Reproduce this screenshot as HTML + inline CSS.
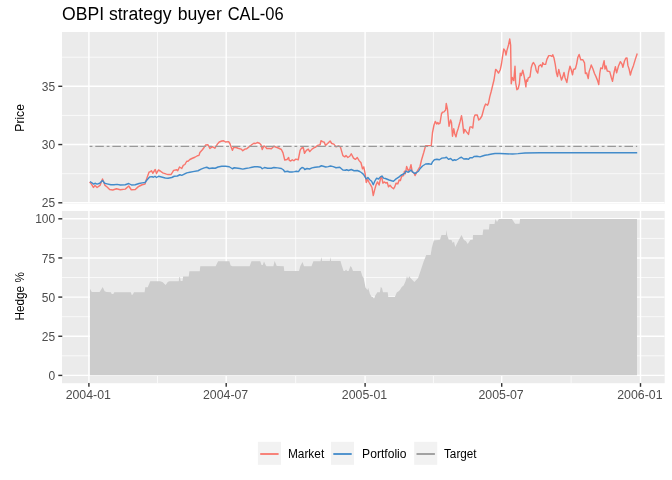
<!DOCTYPE html>
<html><head><meta charset="utf-8"><title>OBPI strategy buyer CAL-06</title>
<style>html,body{margin:0;padding:0;background:#fff}svg{display:block}text{font-family:"Liberation Sans",Arial,Helvetica,sans-serif}</style></head>
<body>
<svg width="672" height="480" viewBox="0 0 672 480">
<rect width="672" height="480" fill="#fff"/>
<defs><clipPath id="c1"><rect x="62" y="32" width="602.7" height="171.55"/></clipPath><clipPath id="c2"><rect x="62" y="210.95" width="602.7" height="172.25"/></clipPath></defs>
<rect x="62" y="32" width="602.7" height="171.55" fill="#ebebeb"/>
<g clip-path="url(#c1)">
<g stroke="#fff" stroke-width="0.71" fill="none"><path d="M62 57.2 H664.7"/><path d="M62 115.4 H664.7"/><path d="M62 173.7 H664.7"/><path d="M157.55 32 V203.55"/><path d="M295.65 32 V203.55"/><path d="M433.4 32 V203.55"/><path d="M571.1 32 V203.55"/></g>
<g stroke="#fff" stroke-width="1.42" fill="none"><path d="M62 86.3 H664.7"/><path d="M62 144.55 H664.7"/><path d="M62 202.8 H664.7"/><path d="M88.9 32 V203.55"/><path d="M226.2 32 V203.55"/><path d="M365.1 32 V203.55"/><path d="M501.7 32 V203.55"/><path d="M640.5 32 V203.55"/></g>
<path d="M89.62 182 L91.5 184.12 L93.38 187.5 L95 185.38 L97.12 187.5 L100 185.38 L102.5 178.88 L105 185.38 L107.12 187 L109.62 189.5 L112.75 190 L116.5 188.75 L120.25 189.75 L125.25 189.12 L128.75 186 L131.25 189.75 L135.25 189.5 L138.38 186.62 L139.62 186 L142.12 184.75 L145 184.12 L146.5 179.12 L149 172.25 L150.25 171.62 L151.5 170.75 L152.75 173.25 L155.25 169.5 L156.5 173.5 L158.38 170 L160.25 171 L162.75 172.88 L166.5 174.12 L168 174.5 L171.12 174.5 L173.62 170.38 L176.75 169.75 L177.75 170.75 L179.5 167 L181.75 168.5 L183.25 165.38 L184.88 164.5 L186.75 161.25 L188 161.25 L189.88 159.5 L192.38 158.25 L194.88 157.25 L197.38 155.75 L199 155.38 L199.88 152.5 L202.38 149.75 L204.25 147.25 L205.5 145 L208 144.75 L209.88 148.5 L212.38 146.62 L214.88 148.25 L217.38 144.12 L219.25 142 L221.75 141 L223.62 140.75 L225.5 142 L228.62 141.62 L229.88 143.5 L232.38 150.38 L233.62 147.5 L235.5 147.25 L238 148.25 L241.12 149.12 L242.75 150.75 L244.88 149.12 L246.75 148.75 L249.25 146.62 L252 144.5 L253.88 143.25 L255.75 143.5 L257.25 142.5 L259.5 143.25 L261 144.75 L262.25 149.5 L263.88 146 L265.12 146.62 L266.75 148.5 L269.5 148.5 L271.38 148.75 L273.88 146.25 L276.38 147.25 L278.88 148.25 L281.38 149.5 L283 152.88 L284.75 160 L287 159.5 L288.62 157.5 L289.25 160.38 L290.75 161 L292.25 159.75 L293.88 160.75 L295.75 159.12 L298.25 159.75 L300.12 150.38 L301.38 148.25 L303.25 147.5 L304.5 153.25 L306.38 150.38 L308.25 149.12 L309.75 151.62 L312 149.12 L313.88 147.88 L315.75 147 L317.62 145.38 L320.12 144.75 L321 140.75 L322.62 141.62 L324.25 142.25 L325.5 145.38 L327.62 143.5 L330.12 141 L331.75 143.5 L333.88 144.12 L336 146.88 L338.5 146 L340.38 146.88 L342.88 155.62 L344.75 156.88 L346 155.62 L347.88 157.5 L349.75 156.25 L351.25 153.75 L353.5 158.12 L355.38 159.38 L357.25 157.5 L359.12 160.62 L361 162.75 L362.5 168.75 L363.75 166.88 L365 173.12 L366.25 182.5 L367.5 179.38 L369.12 182.5 L371 185.62 L372 187.5 L373.25 195.62 L374.75 189.38 L376 185 L377.5 181.88 L379.12 185 L380.75 177.5 L381.62 176.5 L382.88 183.12 L384.5 181.88 L385.75 183.12 L387.25 182.5 L388.5 186.88 L390 185.25 L391.62 187.25 L393.5 188.75 L394.75 186.88 L396 183.12 L397.88 183.75 L399.12 180 L400.38 180.62 L401.62 176.25 L403.5 175.62 L404.5 171.25 L405.38 173.75 L406.62 166.5 L408.25 170.62 L409.75 169.38 L411 164.75 L412.25 171.88 L414.12 173.12 L415 175.62 L416.62 172.25 L418.5 169 L420 166.5 L421.5 160 L423.75 152.5 L425.62 145.62 L428.12 145.62 L431.25 145.62 L432.5 132.5 L434 125 L435.25 121.5 L436.88 124 L437.75 122.5 L438.75 124 L440 123.12 L441.5 113.75 L442.5 112.25 L444 111.88 L445.62 110 L446.25 103.5 L447.5 109.38 L448.12 116.25 L449 126.25 L450.62 120 L451.5 122.5 L452.5 136.25 L453.75 128.75 L454.75 133.75 L456 136.88 L456.88 132.5 L458.12 128.75 L460 121.88 L461.5 115.62 L462.5 121.88 L463.75 133.12 L464.75 129.38 L466.5 131.88 L468.5 134.38 L470 126.88 L471.5 126.88 L472.75 128.12 L474 117.5 L475 115 L477.25 115 L478.75 120 L480 119 L481.88 116 L483.5 110 L484.38 106.88 L485.62 104 L487.5 105.25 L488.5 103.12 L489.75 96.88 L491.25 91.25 L492.75 85 L494 80 L495.62 69.38 L496.88 70.62 L498.5 73.12 L500.25 69.75 L501.5 63.75 L502.5 56.88 L503.75 49 L505 50.62 L506 55 L506.88 50.62 L508.5 45 L509.75 39 L510.62 45 L511.25 83.75 L512.25 77.5 L513.75 80.62 L515 66.25 L515.62 82.5 L516.88 89.75 L518.12 88.75 L519.38 83.75 L520.25 73.12 L521.25 75.62 L522.75 70.25 L524 75.62 L525.25 82.5 L525.88 86.88 L526.5 80 L527.5 81.25 L528.12 78.12 L530 76.88 L531.25 67.5 L532.5 63.75 L533.5 62.5 L535.25 65.62 L536.25 70.62 L537.75 73.12 L538.75 66.25 L540.62 64.75 L541.88 66.88 L542.75 62.75 L544 64.38 L545.62 64.38 L546.88 59.38 L548.75 55.62 L550.62 55.62 L551.88 56.5 L552.75 54.75 L554 58.12 L555.25 64.38 L556.5 73.12 L557.5 76.5 L558.75 69.38 L560 74.38 L561.5 80 L562.75 76.88 L564 72.5 L565 77.5 L566.88 82.5 L568.5 72.5 L570 66.25 L571.25 69.75 L572.5 74.75 L573.5 69.5 L575.38 68.75 L576.62 64.12 L577.88 57.25 L579.12 54.5 L580.75 59.75 L582.88 59.75 L584.5 62.88 L585.38 73.5 L586.62 72.88 L588.25 78.5 L589.12 71.62 L590.38 67.88 L591.25 65 L592.88 68.75 L594.5 73.5 L596 76.62 L597.5 80.38 L598.75 84.5 L599.75 73.5 L600.75 67.88 L602.25 68.75 L603.25 64.12 L604.12 60.75 L605 69.12 L606 66 L607.25 71 L609.75 71.62 L611.25 77.25 L612.5 81.25 L614.12 72.25 L615.38 66.62 L616.62 72.88 L618.5 66 L620.38 61.62 L622 64.12 L622.88 67.25 L624.5 61 L625.75 58.25 L627 57.88 L627.88 65.38 L629.12 69.12 L630.38 75 L631.62 70.38 L633.5 65.38 L635.38 59.12 L637.25 53.5" fill="none" stroke="#f8766d" stroke-width="1.42" stroke-linejoin="round"/>
<path d="M90 181.62 L91.5 182.5 L93.75 184.12 L95 183.25 L97.12 184.12 L99.62 183.25 L102.5 180.38 L104.62 183.25 L107.12 183.88 L110.88 184.75 L114 184.75 L117.12 184.38 L120.25 185 L125.25 184.75 L128.75 183.5 L131.5 185 L135.25 184.75 L139 183.5 L142.12 182.88 L145 182.5 L147.12 179.75 L149.62 177 L152.12 176.62 L153.38 177.25 L155 176.25 L156.5 177.5 L158.62 176.25 L161.5 177 L165.25 178 L168 178.25 L171.75 177.5 L174.25 176.25 L177.38 176 L179.88 174.75 L181.75 175.38 L184.25 174.12 L186.75 172.88 L189.88 172.25 L193 171.62 L198 170.75 L201.12 169.12 L204.25 167.88 L206.75 167.25 L209.25 168.5 L212.38 168 L215.25 168.25 L218 167 L221.75 166.25 L225.5 166.25 L229.25 166.75 L232.38 168.75 L234.25 167.75 L236.12 168 L239.88 168.5 L242.75 169.12 L245.5 168.5 L249.25 167.88 L252 167.25 L254.5 166.75 L257.62 166.75 L260.75 167.25 L262.25 168.75 L264.5 167.5 L267.62 168.25 L271.38 168.25 L273.88 167.5 L277.62 167.88 L281.38 168.5 L283.25 169.75 L284.75 171.75 L287.62 171.25 L289.5 172 L292 172 L294.5 171.62 L296.38 171.25 L298.5 171.62 L300.12 169.12 L302 167.5 L303.5 167.88 L304.75 169.5 L307 168.5 L309.5 169 L312 167.88 L315.12 167.25 L319.5 166.75 L321.38 165.75 L323.25 166.25 L325.75 167 L328.25 166.62 L330.5 166 L333.25 166.62 L336 167.75 L339.75 167.25 L342.88 170 L345.38 170.25 L346.62 169.75 L348.5 170.5 L351.25 169.5 L354.12 170.75 L357.25 170.5 L359.75 171.5 L361.62 172.75 L363.5 174.38 L365 176.88 L366.25 179 L367.88 177.5 L369.75 179.75 L371.62 181.25 L373.25 184.75 L374.75 181.25 L376.62 178.12 L378.5 179 L380.38 176.88 L382 176 L383.5 178.12 L385.38 178.5 L387.25 179.25 L389.12 180 L391.62 180.75 L393.5 181.25 L395.38 179.38 L397.25 178.12 L399.12 176.88 L401 175.25 L403.5 174 L404.75 173.12 L406 171 L407.88 172.25 L409.75 171.25 L411 170 L412.5 171.88 L414.75 173.5 L416.62 172.5 L418.5 171.25 L420 168.75 L422.5 166 L425.62 164 L428.75 163.75 L431.25 164.38 L432.5 161.88 L434.38 159.75 L436.88 159.25 L439.38 159.75 L441.88 158.12 L445 157.75 L446.5 157.25 L448.5 159.38 L450.62 158.5 L452.75 160.62 L454.38 159.75 L456 160.25 L458.12 159 L460 157.75 L461.5 157.25 L463.75 159 L466.25 158.75 L468.5 159.25 L470 157.75 L472.5 157.75 L474 156.5 L476.88 156.25 L480 156.88 L482.5 156 L485 155.25 L488.12 154.75 L491.88 154 L495 153.5 L500 153.5 L512.5 154.05 L518 153.65 L525 152.98 L540 152.83 L637.2 152.83" fill="none" stroke="#428bca" stroke-width="1.42" stroke-linejoin="round"/>
<path d="M89.6 146.4 H637.2" fill="none" stroke="#999999" stroke-width="1.42" stroke-dasharray="2.845 2.845 8.535 2.845"/>
</g>
<rect x="62" y="210.95" width="602.7" height="172.25" fill="#ebebeb"/>
<g clip-path="url(#c2)">
<g stroke="#fff" stroke-width="0.71" fill="none"><path d="M62 238.4 H664.7"/><path d="M62 277.5 H664.7"/><path d="M62 316.7 H664.7"/><path d="M62 355.8 H664.7"/><path d="M157.55 210.95 V383.2"/><path d="M295.65 210.95 V383.2"/><path d="M433.4 210.95 V383.2"/><path d="M571.1 210.95 V383.2"/></g>
<g stroke="#fff" stroke-width="1.42" fill="none"><path d="M62 218.8 H664.7"/><path d="M62 257.95 H664.7"/><path d="M62 297.1 H664.7"/><path d="M62 336.25 H664.7"/><path d="M62 375.4 H664.7"/><path d="M88.9 210.95 V383.2"/><path d="M226.2 210.95 V383.2"/><path d="M365.1 210.95 V383.2"/><path d="M501.7 210.95 V383.2"/><path d="M640.5 210.95 V383.2"/></g>
<path d="M90 375.3 L90 288.75 L91.75 291.88 L99.62 291.88 L100.88 290 L102.75 286.88 L104.62 291.25 L106.5 291.88 L110.88 292.25 L111.75 294 L113.38 294 L114.25 292.25 L130.88 292.25 L131.75 295 L132.75 294.38 L134 292.25 L144.62 292.25 L145.25 287.25 L147.75 287.25 L150.25 281.25 L159 281.25 L160 281.25 L162.5 281.88 L165.62 285 L167.75 281.88 L169.38 281.25 L178.75 281.25 L179.38 276.88 L180 276.88 L180.62 281 L182.5 281 L183.12 276.5 L188.75 276.5 L189.38 271.25 L199.75 271.25 L200.25 266.25 L215.62 266.25 L218.12 261.25 L229.38 261.25 L230.62 265.62 L232.5 266.25 L242.5 266.25 L244 266.25 L249.62 266.25 L251.5 261.25 L260.25 261.25 L261.5 265 L262.75 265 L264 261.5 L265.88 265.62 L266.5 266.25 L273.38 266.25 L274.62 261 L276.75 266 L283.75 266.25 L284.25 271 L299 271 L300.25 266.25 L302.5 261.88 L304 266.25 L311.5 266.25 L313.38 261.25 L320.5 261.25 L321.5 256.88 L322.12 261 L326.5 261 L328 261 L329.88 261 L330.5 256.88 L331.12 261 L340.5 261 L341.75 265.62 L343.62 271 L344.88 271 L346.12 269.38 L347 271 L348.62 271 L350.5 266 L351.75 267.5 L353 271 L360.75 271 L362.38 276.25 L363.62 277.75 L365.5 287.5 L367.38 290 L368.25 288.12 L369.88 293.75 L371.75 296.88 L373 296.88 L374 298.75 L375.25 295.62 L377.38 292.25 L379.88 292.25 L380.75 286.88 L382 288.12 L383 292.25 L387.75 292.25 L388.25 296.88 L394.88 296.88 L396.75 292.5 L398.62 291.25 L399.88 290 L401.75 286.88 L403.62 285.62 L405.5 281.25 L407 276.25 L408 278.75 L409.25 276.25 L410.5 278.12 L414.38 281.88 L418.12 278.12 L421.25 268.75 L423.75 261.25 L426.25 255 L430.62 255 L431.88 247.5 L433.75 240.62 L440 239.75 L441.5 235 L445.88 235.12 L446.5 230.12 L447.12 235.12 L448.75 239.75 L451.5 240.12 L452.75 243 L454 241.38 L455.25 247 L458.38 240.75 L461.5 235.12 L464 240.12 L465.88 241 L467.75 243.88 L470.25 240.12 L472.75 239.75 L473 235 L482.62 235 L483.25 229.38 L488.88 229.38 L489.5 224 L494.5 224 L495.5 219 L497 221.88 L498.88 219 L512 219 L515.12 223.75 L519.5 223.75 L520.12 219 L637 219 L637 375.3 Z" fill="#cccccc"/>
</g>
<g stroke="#333" stroke-width="1.42" fill="none"><path d="M58.3 86.3 H62.3"/><path d="M58.3 144.55 H62.3"/><path d="M58.3 202.8 H62.3"/><path d="M58.3 218.8 H62.3"/><path d="M58.3 257.95 H62.3"/><path d="M58.3 297.1 H62.3"/><path d="M58.3 336.25 H62.3"/><path d="M58.3 375.4 H62.3"/><path d="M88.9 383.1 V386.8"/><path d="M226.2 383.1 V386.8"/><path d="M365.1 383.1 V386.8"/><path d="M501.7 383.1 V386.8"/><path d="M640.5 383.1 V386.8"/></g>
<g font-size="12.5" fill="#4d4d4d" text-anchor="end"><text x="55.2" y="90.9" textLength="13.34" lengthAdjust="spacingAndGlyphs">35</text><text x="55.2" y="148.9" textLength="13.34" lengthAdjust="spacingAndGlyphs">30</text><text x="55.2" y="206.9" textLength="13.34" lengthAdjust="spacingAndGlyphs">25</text><text x="55.2" y="222.9" textLength="20.01" lengthAdjust="spacingAndGlyphs">100</text><text x="55.2" y="262.9" textLength="13.34" lengthAdjust="spacingAndGlyphs">75</text><text x="55.2" y="301.9" textLength="13.34" lengthAdjust="spacingAndGlyphs">50</text><text x="55.2" y="340.9" textLength="13.34" lengthAdjust="spacingAndGlyphs">25</text><text x="55.2" y="379.9" textLength="6.67" lengthAdjust="spacingAndGlyphs">0</text></g>
<g font-size="12.5" fill="#4d4d4d" text-anchor="middle"><text x="88.3" y="398.9" textLength="45.3" lengthAdjust="spacingAndGlyphs">2004-01</text><text x="225.6" y="398.9" textLength="45.3" lengthAdjust="spacingAndGlyphs">2004-07</text><text x="364.5" y="398.9" textLength="45.3" lengthAdjust="spacingAndGlyphs">2005-01</text><text x="501.1" y="398.9" textLength="45.3" lengthAdjust="spacingAndGlyphs">2005-07</text><text x="639.9" y="398.9" textLength="45.3" lengthAdjust="spacingAndGlyphs">2006-01</text></g>
<text font-size="12.5" fill="#000" text-anchor="middle" textLength="27.5" lengthAdjust="spacingAndGlyphs" transform="translate(24 117.9) rotate(-90)">Price</text>
<text font-size="12.5" fill="#000" text-anchor="middle" textLength="48.3" lengthAdjust="spacingAndGlyphs" transform="translate(24 296.3) rotate(-90)">Hedge %</text>
<text font-size="17.6" fill="#000" y="19.6"><tspan x="62">OBPI strategy </tspan><tspan x="177.75">buyer </tspan><tspan x="227.7" textLength="56" lengthAdjust="spacingAndGlyphs">CAL-06</tspan></text>
<rect x="257.9" y="441.8" width="23.04" height="23.04" fill="#f2f2f2"/><path d="M260.2 454 H278.6" stroke="#f8766d" stroke-width="1.8" fill="none"/><text font-size="12.5" fill="#000" x="287.9" y="457.9" textLength="36.3" lengthAdjust="spacingAndGlyphs">Market</text>
<rect x="331" y="441.8" width="23.04" height="23.04" fill="#f2f2f2"/><path d="M333.3 454 H351.7" stroke="#428bca" stroke-width="1.8" fill="none"/><text font-size="12.5" fill="#000" x="362.1" y="457.9" textLength="44.4" lengthAdjust="spacingAndGlyphs">Portfolio</text>
<rect x="414.2" y="441.8" width="23.04" height="23.04" fill="#f2f2f2"/><path d="M416.5 454 H434.9" stroke="#999999" stroke-width="1.8" fill="none"/><text font-size="12.5" fill="#000" x="444" y="457.9" textLength="32.6" lengthAdjust="spacingAndGlyphs">Target</text>
</svg>
</body></html>
